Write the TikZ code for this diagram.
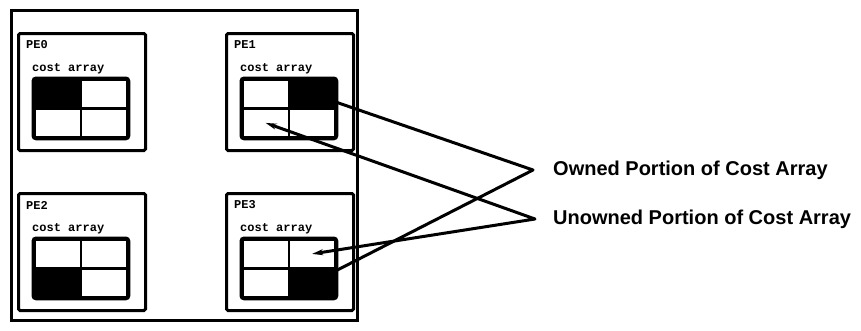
\documentclass[tikz,border=0pt]{standalone}
\usepackage{fontspec}
\setmainfont{Liberation Sans}
\newfontfamily\pemono{Liberation Mono}
\usetikzlibrary{arrows.meta}
\tikzset{
  frame/.style={draw=black, line width=3pt},
  pebox/.style={draw=black, line width=3pt, rounded corners=1.5pt, anchor=north west, minimum width=127pt, minimum height=117pt, inner sep=0pt},
  cell/.style={draw=black, line width=2.8pt, minimum width=46.5pt, minimum height=29pt, inner sep=0pt, anchor=north west},
  pelbl/.style={font=\pemono\bfseries\fontsize{12}{12}\selectfont, anchor=west, inner sep=0pt},
  keylbl/.style={font=\bfseries\fontsize{20}{20}\selectfont, anchor=west, inner sep=0pt},
  link/.style={draw=black, line width=3pt, line join=round},
}

\begin{document}
\begin{tikzpicture}[x=1pt, y=-1pt]
\useasboundingbox (0,0) rectangle (861,330);
% machine outline
\draw[frame] (11,10) rectangle (357,320);
% the four processors, each with its cost array
\foreach \n/\x/\y/\k in {0/17/32/11, 1/225/32/12, 2/17/192/21, 3/225/192/22} {
  \node[pebox] (pe\n) at (\x,\y) {};
  \node[pelbl] (pe\n-name) at (\x+9,\y+13) {PE\n};
  \node[pelbl] (pe\n-arr) at (\x+15,\y+37) {cost array};
  \foreach \r in {1,2}
    \foreach \c in {1,2}
      \node[cell] (pe\n-c\r\c) at ({\x+16+(\c-1)*46.5},{\y+46+(\r-1)*29}) {};
  \fill[black] (pe\n-c\k.north west) rectangle (pe\n-c\k.south east);
  \draw[black, line width=3pt, rounded corners=3pt] (pe\n-c11.north west) rectangle (pe\n-c22.south east);
}
% key
\coordinate (own) at (533,170);
\coordinate (unown) at (535,219);
\node[keylbl] (ownlbl) at (553,170) {Owned Portion of Cost Array};
\node[keylbl] (unownlbl) at (553,219) {Unowned Portion of Cost Array};
\draw[link] (pe1-c12.center) -- (own) -- (pe3-c22.center);
\draw[link, {Stealth[length=11pt, width=6pt]}-{Stealth[length=11pt, width=6pt]}] (pe1-c21.center) -- (unown) -- (pe3-c12.center);
\end{tikzpicture}
\end{document}
